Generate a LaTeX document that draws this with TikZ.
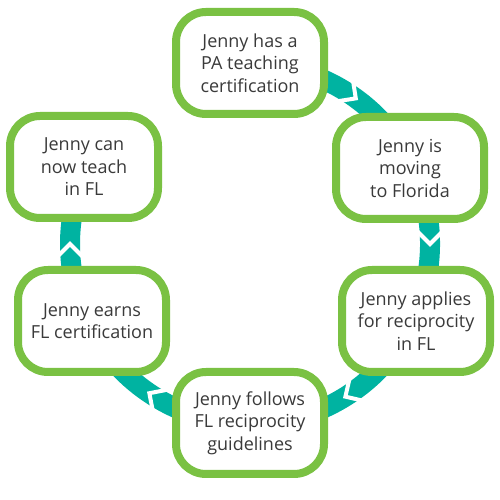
\documentclass[tikz,border=0pt]{standalone}
\usepackage{fontspec}
\setmainfont{Open Sans}
\usetikzlibrary{calc}
\definecolor{ringteal}{HTML}{00B3A1}
\definecolor{boxgreen}{HTML}{7AC143}
\definecolor{txt}{HTML}{3A3A3A}
\begin{document}
\begin{tikzpicture}[x=1pt,y=1pt,
  stepbox/.style={draw=boxgreen, line width=8pt, fill=white, rounded corners=30pt,
    minimum width=148pt, minimum height=102pt, align=center, text=txt,
    font=\fontsize{18}{22.5}\selectfont, inner sep=0pt},
  ring/.style={draw=ringteal, line width=20pt},
  chev/.style={draw=white, line width=4pt}]
\useasboundingbox (0,0) rectangle (500,500);
\coordinate (c) at (250,256);
\draw[ring] ($(c)+(80:180)$) arc[start angle=80, end angle=-200, radius=180];
\foreach \t in {54,0,-58,-124,180}{
  \draw[chev] ($(c)+(\t:180)+(\t+90:14)+(\t:14)$) -- ($(c)+(\t:180)$) -- ($(c)+(\t:180)+(\t+90:14)+(\t:-14)$);
}
\node[stepbox] (n1) at (250,437) {Jenny has a\\PA teaching\\certification};
\node[stepbox] (n2) at (410,332) {Jenny is\\moving\\to Florida};
\node[stepbox] (n3) at (416,179) {Jenny applies\\for reciprocity\\in FL};
\node[stepbox] (n4) at (250,77) {Jenny follows\\FL reciprocity\\guidelines};
\node[stepbox] (n5) at (92,179) {Jenny earns\\FL certification};
\node[stepbox] (n6) at (84,333) {Jenny can\\now teach\\in FL};
\end{tikzpicture}
\end{document}
